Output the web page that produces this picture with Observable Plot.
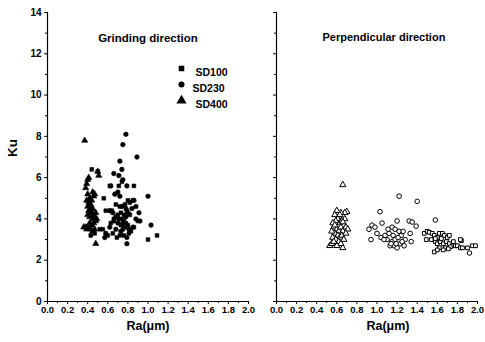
<!DOCTYPE html>
<html>
<head>
<meta charset="utf-8">
<script src="https://cdn.jsdelivr.net/npm/d3@7"></script>
<script src="https://cdn.jsdelivr.net/npm/@observablehq/plot@0.6"></script>
<style>
  html, body { margin: 0; padding: 0; background: #fff; }
  #wrap { position: relative; width: 485px; height: 342px; background: #fff; overflow: hidden; }
  #wrap svg { position: absolute; top: 0; font-family: "Liberation Sans", Arial, sans-serif; font-weight: bold; overflow: visible; }
</style>
</head>
<body>
<div id="wrap"></div>
<script>
// ---- data ----
const panelTitles = ["Grinding direction", "Perpendicular direction"];
const seriesNames = ["SD100", "SD230", "SD400"];
const seriesSymbols = ["square", "circle", "triangle"];
const xTicks = [0, 0.2, 0.4, 0.6, 0.8, 1.0, 1.2, 1.4, 1.6, 1.8, 2.0];
const xMinorTicks = [0.1, 0.3, 0.5, 0.7, 0.9, 1.1, 1.3, 1.5, 1.7, 1.9];
const yTicks = [0, 2, 4, 6, 8, 10, 12, 14];
const yMinorTicks = [1, 3, 5, 7, 9, 11, 13];
const xDomain = [0, 2];
const yDomain = [0, 14];

// Grinding direction (filled markers) [Ra, Ku]
const grindSD100 = [[0.44,6.4],[0.50,6.3],[0.43,3.2],[0.47,3.3],[0.55,3.5],[0.60,3.2],[0.65,3.3],[0.69,3.1],[0.72,3.2],[0.75,3.5],[0.77,3.6],[0.78,3.8],[0.80,3.7],[0.76,3.9],[0.74,4.0],[0.73,4.3],[0.78,4.5],[0.80,4.9],[0.79,4.4],[0.72,4.6],[0.70,4.2],[0.66,4.0],[0.64,4.4],[0.58,4.4],[0.56,5.0],[0.62,5.6],[0.71,5.6],[0.74,5.8],[0.86,5.6],[0.85,4.9],[0.82,4.2],[0.81,3.3],[0.76,3.2],[1.00,3.0],[1.09,3.2],[0.90,3.9],[0.86,3.6],[0.68,4.7],[0.83,3.4],[0.63,3.8],[0.52,3.5],[0.76,4.2],[0.73,3.7]];
const grindSD230 = [[0.78,8.1],[0.75,7.6],[0.89,7.0],[0.72,6.8],[0.74,6.4],[0.66,6.2],[0.71,6.1],[0.75,5.9],[0.79,5.6],[0.67,5.2],[0.70,5.3],[0.72,5.1],[0.63,5.6],[1.00,5.1],[1.03,3.7],[0.88,4.6],[0.86,4.9],[0.82,4.8],[0.84,4.5],[0.91,4.3],[0.92,3.9],[0.88,4.0],[0.85,3.6],[0.79,3.1],[0.79,2.8],[0.73,3.4],[0.68,3.5],[0.62,3.6],[0.57,3.1],[0.58,3.3],[0.62,4.4],[0.65,4.3],[0.68,4.1],[0.71,4.0],[0.75,3.8],[0.78,4.1],[0.80,4.3],[0.74,4.6],[0.77,4.7],[0.81,3.5],[0.70,3.8],[0.66,3.9]];
const grindSD400 = [[0.37,7.8],[0.38,5.5],[0.39,5.7],[0.40,5.9],[0.41,6.0],[0.40,5.2],[0.39,4.9],[0.40,4.6],[0.41,4.8],[0.42,5.0],[0.43,4.7],[0.41,4.4],[0.40,4.2],[0.42,4.1],[0.44,4.3],[0.45,4.0],[0.46,4.2],[0.47,4.1],[0.48,4.3],[0.49,4.0],[0.48,3.9],[0.46,3.8],[0.44,3.7],[0.42,3.8],[0.40,3.6],[0.38,3.6],[0.39,3.5],[0.43,3.5],[0.45,3.4],[0.47,3.5],[0.48,2.8],[0.45,5.3],[0.46,5.1],[0.47,5.2],[0.50,6.3],[0.51,6.1],[0.44,4.9],[0.45,4.5],[0.43,4.5],[0.36,3.6]];

// Perpendicular direction (open markers) [Ra, Ku]
const perpSD100 = [[1.47,3.3],[1.50,3.4],[1.52,3.35],[1.55,3.3],[1.57,3.2],[1.60,3.1],[1.62,3.3],[1.65,3.3],[1.67,3.2],[1.70,3.1],[1.58,2.9],[1.60,2.8],[1.63,2.9],[1.66,2.8],[1.69,2.9],[1.72,2.8],[1.75,2.7],[1.78,2.7],[1.80,2.7],[1.83,2.6],[1.85,2.6],[1.84,2.95],[1.83,3.0],[1.57,2.4],[1.62,2.6],[1.68,2.6],[1.73,2.65],[1.90,2.6],[1.95,2.7],[1.98,2.7],[1.54,3.0],[1.58,3.05],[1.64,3.05],[1.72,3.2],[1.76,2.9],[1.49,3.0],[1.66,2.5],[1.60,2.5],[1.71,2.55]];
const perpSD230 = [[1.22,5.1],[1.40,4.85],[1.03,4.35],[1.58,3.95],[0.95,3.7],[0.92,3.5],[0.98,3.6],[1.05,3.8],[1.00,3.3],[1.04,3.1],[1.08,3.2],[1.12,3.3],[1.15,3.6],[1.18,3.5],[1.20,3.9],[1.22,3.4],[1.24,3.2],[1.26,3.4],[1.28,3.0],[1.32,3.9],[1.35,3.85],[1.39,3.65],[1.33,3.3],[1.34,2.9],[1.17,2.7],[1.20,2.6],[1.23,2.8],[1.27,2.7],[1.13,2.7],[1.15,2.9],[1.18,3.0],[1.21,3.1],[1.16,3.2],[1.10,3.0],[1.14,2.8],[1.19,2.8],[1.25,2.9],[1.11,3.5],[1.07,3.0],[0.94,3.0],[1.92,2.35]];
const perpSD400 = [[0.66,5.65],[0.53,2.7],[0.55,2.8],[0.66,2.6],[0.70,4.35],[0.68,4.3],[0.60,4.4],[0.58,4.2],[0.62,4.1],[0.64,4.3],[0.61,4.0],[0.59,3.9],[0.63,3.8],[0.65,3.9],[0.67,3.7],[0.69,3.6],[0.71,3.5],[0.56,3.8],[0.57,3.6],[0.60,3.5],[0.62,3.4],[0.64,3.6],[0.66,3.4],[0.58,3.3],[0.61,3.2],[0.63,3.1],[0.65,3.2],[0.56,3.1],[0.59,3.0],[0.62,2.9],[0.64,2.8],[0.60,2.7],[0.57,2.9],[0.67,3.0],[0.69,3.3],[0.55,3.4],[0.58,3.7],[0.68,4.0],[0.63,4.2],[0.66,3.85]];

// ---- drawing ----
const wrap = document.getElementById("wrap");
const fmt = d => d.toFixed(1);

function axes(showYLabels) {
  return [
    Plot.axisX(xTicks, {tickFormat: fmt, tickSize: 3, tickPadding: 2, fontSize: 9.5, fontWeight: "bold", label: null}),
    Plot.axisX(xMinorTicks, {tickFormat: () => "", tickSize: 2, label: null}),
    Plot.axisY(yTicks, {tickFormat: showYLabels ? (d => String(d)) : (() => ""), tickSize: 3, tickPadding: 3, fontSize: 10, fontWeight: "bold", label: null}),
    Plot.axisY(yMinorTicks, {tickFormat: () => "", tickSize: 2, label: null}),
    Plot.ruleX([xDomain[0]], {stroke: "#000", strokeWidth: 1.2}),
    Plot.ruleY([yDomain[0]], {stroke: "#000", strokeWidth: 1.2})
  ];
}

function seriesMarks(sets, filled) {
  return sets.map((data, i) => Plot.dot(data, {
    x: d => d[0], y: d => d[1],
    symbol: () => seriesSymbols[i],
    r: seriesSymbols[i] === "square" ? 2.1 : 2.3,
    fill: filled ? "#000" : "#fff",
    stroke: "#000",
    strokeWidth: filled ? 0.6 : 1
  }));
}

// Left panel
const left = Plot.plot({
  width: 258, height: 342,
  marginLeft: 47, marginRight: 10, marginTop: 12, marginBottom: 41,
  x: {domain: xDomain},
  y: {domain: yDomain},
  symbol: {type: "identity"},
  style: {fontFamily: "Liberation Sans, Arial, sans-serif", background: "transparent", overflow: "visible"},
  marks: [
    ...axes(true),
    ...seriesMarks([grindSD100, grindSD230, grindSD400], true),
    Plot.text([panelTitles[0]], {text: d => d, frameAnchor: "top", dy: 21, fontSize: 11.5, fontWeight: "bold", letterSpacing: 0.5}),
    ...seriesNames.map((name, i) => Plot.dot([name], {frameAnchor: "top-left", dx: 134, dy: 56 + i * 16, symbol: () => seriesSymbols[i], r: i === 2 ? 2.8 : 2.3, fill: "#000", stroke: "#000"})),
    ...seriesNames.map((name, i) => Plot.text([name], {text: d => d, frameAnchor: "top-left", dx: 148 - (i === 1 ? 3 : 0), dy: 56 + i * 16, textAnchor: "start", fontSize: 10.5, fontWeight: "bold", letterSpacing: 0.6})),
    Plot.text(["Ku"], {text: d => d, frameAnchor: "left", dx: -35, rotate: -90, fontSize: 13.5, fontWeight: "bold", letterSpacing: 0.5}),
    Plot.text(["Ra(\u03bcm)"], {text: d => d, frameAnchor: "bottom", dy: 28, fontSize: 12.5, fontWeight: "bold", letterSpacing: 1.2})
  ]
});
left.style.left = "0px";
wrap.appendChild(left);

// Right panel
const right = Plot.plot({
  width: 235, height: 342,
  marginLeft: 26, marginRight: 8, marginTop: 12, marginBottom: 41,
  x: {domain: xDomain},
  y: {domain: yDomain},
  symbol: {type: "identity"},
  style: {fontFamily: "Liberation Sans, Arial, sans-serif", background: "transparent", overflow: "visible"},
  marks: [
    ...axes(false),
    ...seriesMarks([perpSD100, perpSD230, perpSD400], false),
    Plot.text([panelTitles[1]], {text: d => d, frameAnchor: "top-left", dx: 46, dy: 21, textAnchor: "start", fontSize: 11, fontWeight: "bold", letterSpacing: 0.4}),
    Plot.text(["Ra(\u03bcm)"], {text: d => d, frameAnchor: "bottom", dx: 11, dy: 28, fontSize: 12.5, fontWeight: "bold", letterSpacing: 1.2})
  ]
});
right.style.left = "250px";
wrap.appendChild(right);
</script>
</body>
</html>
